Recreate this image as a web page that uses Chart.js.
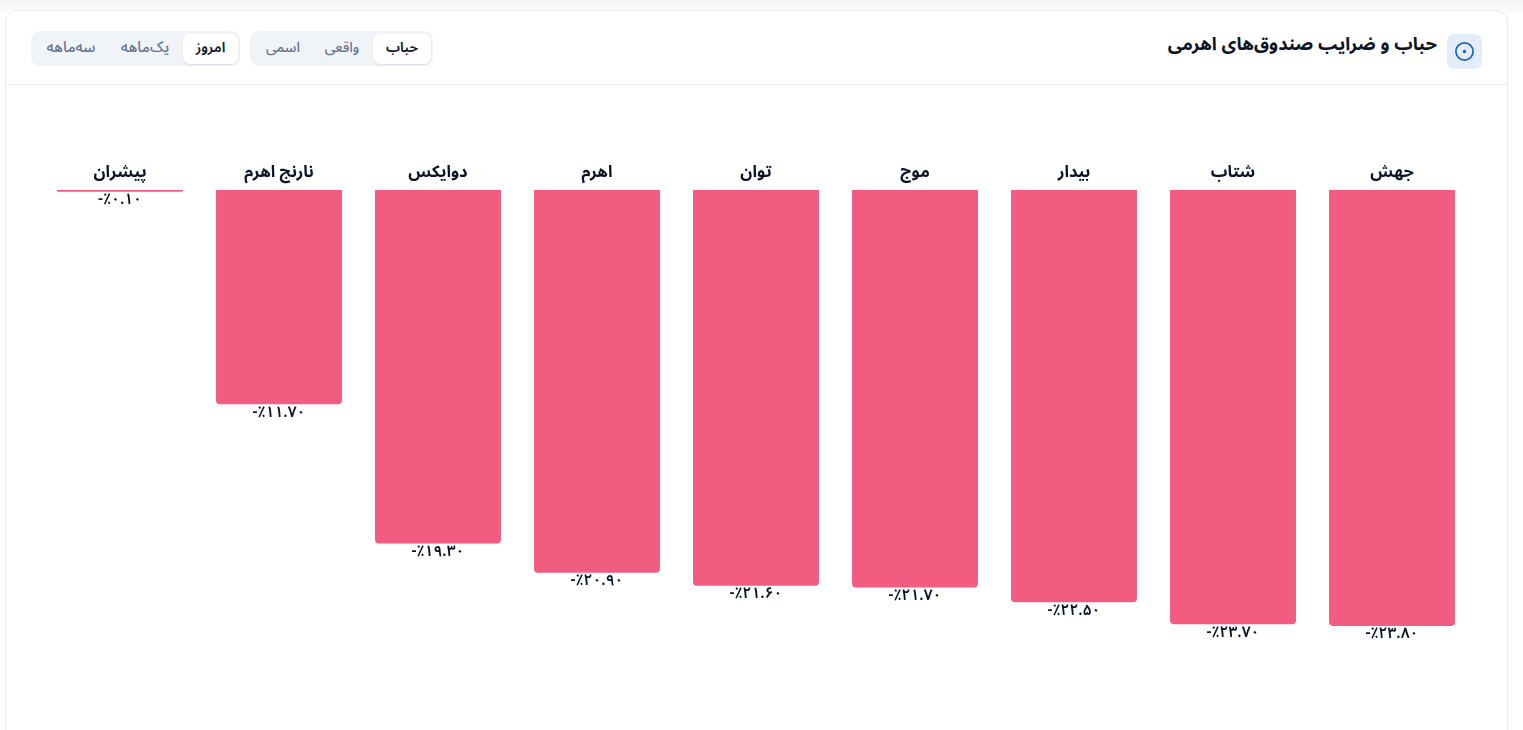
<!DOCTYPE html>
<html lang="fa">
<head>
<meta charset="utf-8">
<title>حباب و ضرایب صندوق‌های اهرمی</title>
<script src="https://cdn.jsdelivr.net/npm/chart.js@4/dist/chart.umd.min.js"></script>
<style>
  * { box-sizing: border-box; }
  html, body { margin: 0; height: 100%; overflow: hidden; background: #fff; }
  body { font-family: "Noto Sans Arabic", "Noto Sans", "DejaVu Sans", sans-serif; position: relative; width: 1523px; height: 730px; }
  .topfade { position: absolute; left: 0; top: 0; width: 100%; height: 12px; background: linear-gradient(#f3f3f4, #fbfbfb); }
  .card { position: absolute; left: 5px; top: 10px; width: 1503px; height: 740px; background: #fff; border: 1px solid #e8ecf2; border-radius: 12px; }
  .rule { position: absolute; left: 6px; top: 84px; width: 1501px; height: 1px; background: #e9edf3; }
  .icon { position: absolute; left: 1447px; top: 34px; width: 35px; height: 35px; background: #e4edf7; border-radius: 7px; }
  .icon svg { position: absolute; left: 7px; top: 7px; }
  .title { position: absolute; right: 86px; top: 31px; font-size: 18.2px; font-weight: 700; color: #0b1324; direction: rtl; line-height: 26px; white-space: nowrap; }
  .group { position: absolute; top: 31px; height: 35px; background: #f0f3f8; border-radius: 9px; }
  .group span { position: absolute; top: 3px; height: 30px; line-height: 27px; text-align: center; font-size: 14px; color: #66748a; direction: rtl; font-weight: 500; white-space: nowrap; }
  .group span.on { background: #fff; color: #0b1324; border-radius: 7px; font-weight: 600; font-size: 14px; box-shadow: 0 1px 2px rgba(20,40,80,.1); }
  .group span.wide { font-size: 15px; }
  #wrap { position: absolute; left: 6px; top: 85px; width: 1500px; height: 640px; }
</style>
</head>
<body>
<div class="topfade"></div>
<div class="card"></div>
<div class="rule"></div>
<div class="icon"><svg width="21" height="21" viewBox="0 0 21 21"><circle cx="10.5" cy="10.5" r="8.6" fill="none" stroke="#1565c0" stroke-width="1.7"/><circle cx="10.5" cy="10.5" r="1.7" fill="#1565c0"/></svg></div>
<div class="title">حباب و ضرایب صندوق‌های اهرمی</div>
<div class="group" style="left:250px;width:183px">
  <span class="on" style="left:123px;width:58px">حباب</span>
  <span style="left:62px;width:60px">واقعی</span>
  <span style="left:3px;width:60px">اسمی</span>
</div>
<div class="group" style="left:31px;width:209px">
  <span class="on" style="left:152px;width:55px">امروز</span>
  <span class="wide" style="left:78px;width:72px">یک‌ماهه</span>
  <span class="wide" style="left:4px;width:72px">سه‌ماهه</span>
</div>
<div id="wrap"><canvas id="cnvs_bar"></canvas></div>
<script>
const categories = ['جهش', 'شتاب', 'بیدار', 'موج', 'توان', 'اهرم', 'دوایکس', 'نارنج اهرم', 'پیشران'];
const bubbleValues = [-23.8, -23.7, -22.5, -21.7, -21.6, -20.9, -19.3, -11.7, -0.1];
const fontFamily = '"Noto Sans Arabic", "Noto Sans", "DejaVu Sans", sans-serif';

function toPersian(v) {
  const digits = '۰۱۲۳۴۵۶۷۸۹';
  const txt = Math.abs(v).toFixed(2).replace(/\d/g, function(d) { return digits[d]; });
  return (v < 0 ? '-' : '') + '٪' + txt;
}

// value text under the end of every bar
const valueLabels = {
  id: 'valueLabels',
  afterDatasetsDraw(chart) {
    const ctx = chart.ctx;
    const meta = chart.getDatasetMeta(0);
    ctx.save();
    ctx.direction = 'ltr';
    ctx.font = '600 15.5px ' + fontFamily;
    ctx.fillStyle = '#0b1324';
    ctx.textAlign = 'center';
    ctx.textBaseline = 'middle';
    meta.data.forEach(function(bar, i) {
      ctx.fillText(toPersian(bubbleValues[i]), bar.x, bar.y + 10);
    });
    ctx.restore();
  }
};

const ctx = document.getElementById('cnvs_bar').getContext('2d');
new Chart(ctx, {
  type: 'bar',
  data: {
    labels: categories,
    datasets: [{
      data: bubbleValues,
      backgroundColor: '#f25c80',
      borderRadius: 4,
      borderSkipped: 'start',
      categoryPercentage: 1,
      barPercentage: 0.792
    }]
  },
  options: {
    responsive: true,
    maintainAspectRatio: false,
    animation: false,
    layout: { padding: { left: 34.5, right: 34.5, top: 71, bottom: 0 } },
    plugins: { legend: { display: false }, tooltip: { enabled: false } },
    scales: {
      x: {
        position: 'top',
        reverse: true,
        grid: { display: false },
        border: { display: false },
        // tick labels get clipped to the scale box, the padding below is negative so make the box taller
        afterFit(scale) { scale.height += 12; },
        ticks: { color: '#0b1324', font: { family: fontFamily, size: 16.5, weight: '700' }, padding: -3, maxRotation: 0, autoSkip: false }
      },
      y: { display: false, min: -29.2, max: 0 }
    }
  },
  plugins: [valueLabels]
});
</script>
</body>
</html>
